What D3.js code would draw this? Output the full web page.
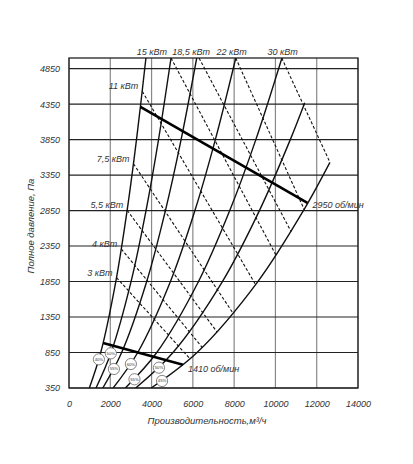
<!DOCTYPE html>
<html><head><meta charset="utf-8">
<script src="https://cdn.jsdelivr.net/npm/d3@7/dist/d3.min.js"></script>
<style>
body{margin:0;background:#fff;}
text{font-family:"Liberation Sans",Arial,sans-serif;font-style:italic;fill:#333;}
</style></head>
<body><svg id="c" width="413" height="464"></svg>
<script>
// ---- data ----
const xTicks = [0,2000,4000,6000,8000,10000,12000,14000];
const yTicks = [350,850,1350,1850,2350,2850,3350,3850,4350,4850];

// solid curves (Q m3/h, P Pa)
const curve1 = [[986,350],[1537,850],[2267,1850],[2814,2850],[3270,3850],[3727,5000]];
const curve2 = [[1308,350],[2038,850],[3006,1850],[3731,2850],[4337,3850],[4942,5000]];
const curve3 = [[1637,350],[2551,850],[3764,1850],[4671,2850],[5430,3850],[6187,5000]];
const curve4 = [[2138,350],[3331,850],[4914,1850],[6100,2850],[7089,3850],[8079,5000]];
const curve5 = [[2729,350],[4253,850],[6274,1850],[7787,2850],[9051,3850],[10314,5000]];
const curve6 = [[3232,350],[5037,850],[7431,1850],[9224,2850],[10720,3850],[11420,4370]];
const curve7 = [[3980,350],[6202,850],[9149,1850],[11356,2850],[12640,3530]];

// power lines (dashed)
const powerLabels = ["3 кВт","4 кВт","5,5 кВт","7,5 кВт","11 кВт","15 кВт","18,5 кВт","22 кВт","30 кВт"];
const powerStart = [[2303,1906],[2535,2309],[2818,2854],[3125,3509],[3551,4530],[4942,5000],[6300,5000],[8077,5000],[10305,5000]];
const powerEnd   = [[5867,759],[6459,920],[7180,1136],[7961,1397],[9046,1804],[10032,2219],[10760,2553],[11397,2864],[12640,3530]];

// speed lines (bold)
const speedLabels = ["2950 об/мин","1410 об/мин"];
const speed2950 = [[3460,4310],[11550,2960]];
const speed1410 = [[1654,985],[5521,676]];

// percentage marks on curves
const pctLabels = ["40%","50%","55%","60%","55%","50%","45%"];
const pctQ = [1447,2025,2175,2997,3172,4357,4507];
const pctP = [754,839,618,688,473,636,449];

// ---- drawing ----
const svg = d3.select("#c");
const L=69,R=358,T=58,B=388;
const x = d3.scaleLinear().domain([0,14000]).range([L,R]);
const y = d3.scaleLinear().domain([350,5000]).range([B,T]);

svg.append("defs").append("clipPath").attr("id","clip")
  .append("rect").attr("x",L).attr("y",T).attr("width",R-L).attr("height",B-T);

// grid
const g = svg.append("g");
g.selectAll(".vg").data(xTicks).join("line")
  .attr("x1",d=>x(d)).attr("x2",d=>x(d)).attr("y1",T).attr("y2",B)
  .attr("stroke","#888").attr("stroke-width",1.2);
g.selectAll(".hg").data(yTicks).join("line")
  .attr("x1",L).attr("x2",R).attr("y1",d=>y(d)).attr("y2",d=>y(d))
  .attr("stroke","#222").attr("stroke-width",1.1);
g.append("rect").attr("x",L).attr("y",T).attr("width",R-L).attr("height",B-T)
  .attr("fill","none").attr("stroke","#222").attr("stroke-width",1.3);

// axes labels
const xAxis = d3.axisBottom(x).tickValues(xTicks).tickSize(0).tickPadding(0).tickFormat(d3.format("d"));
const ax = svg.append("g").attr("transform",`translate(0,${B})`).call(xAxis);
ax.select(".domain").remove();
ax.selectAll("text").attr("dy",null).attr("y",19).style("font-size","9px").style("font-family","Liberation Sans").attr("fill","#333");
const yAxis = d3.axisLeft(y).tickValues(yTicks).tickSize(0).tickPadding(0).tickFormat(d3.format("d"));
const ay = svg.append("g").attr("transform",`translate(${L-9},0)`).call(yAxis);
ay.select(".domain").remove();
ay.selectAll("text").style("font-size","9px").style("font-family","Liberation Sans").attr("fill","#333");

svg.append("text").attr("x",207).attr("y",424).attr("text-anchor","middle")
  .style("font-size","9.5px").text("Производительность,м³/ч");
svg.append("text").attr("transform","translate(34,226) rotate(-90)").attr("text-anchor","middle")
  .style("font-size","9.5px").text("Полное давление, Па");

const plot = svg.append("g").attr("clip-path","url(#clip)");
const line = d3.line().x(d=>x(d[0])).y(d=>y(d[1]));
const smooth = d3.line().x(d=>x(d[0])).y(d=>y(d[1])).curve(d3.curveCatmullRom.alpha(0.5));

// dashed power lines
powerStart.forEach((s,i)=>{
  plot.append("path").attr("d",line([s,powerEnd[i]]))
    .attr("fill","none").attr("stroke","#111").attr("stroke-width",1.1)
    .attr("stroke-dasharray","3,2");
});

// solid curves
[curve1,curve2,curve3,curve4,curve5,curve6,curve7].forEach(c=>{
  plot.append("path").attr("d",smooth(c)).attr("fill","none")
    .attr("stroke","#111").attr("stroke-width",1.4);
});

// bold speed lines
[speed2950,speed1410].forEach(c=>{
  plot.append("path").attr("d",line(c)).attr("fill","none")
    .attr("stroke","#000").attr("stroke-width",2.6);
});

// power labels
powerLabels.forEach((t,i)=>{
  const s = powerStart[i];
  let tx, ty, anchor;
  if (s[1] < 5000) { tx = x(s[0])-4; ty = y(s[1])-2; anchor="end"; }
  else {
    const dx = [ -4, -8, -4, 1 ][i-5];
    tx = x(s[0])+dx; ty = T-3; anchor = (i===5)?"end":"middle";
  }
  svg.append("text").attr("x",tx).attr("y",ty).attr("text-anchor",anchor)
    .style("font-size","9px").text(t);
});

// speed labels
svg.append("text").attr("x",x(speed2950[1][0])+5).attr("y",y(speed2950[1][1])+5)
  .style("font-size","9px").text(speedLabels[0]);
svg.append("text").attr("x",x(speed1410[1][0])+5).attr("y",y(speed1410[1][1])+7)
  .style("font-size","9px").text(speedLabels[1]);

// percentage circles
const pg = svg.append("g");
pctLabels.forEach((t,i)=>{
  const cx = x(pctQ[i]), cy = y(pctP[i]);
  pg.append("circle").attr("cx",cx).attr("cy",cy).attr("r",5.6)
    .attr("fill","#fff").attr("stroke","#666").attr("stroke-width",0.8);
  pg.append("text").attr("x",cx).attr("y",cy+1.5).attr("text-anchor","middle")
    .style("font-size","4.2px").style("font-style","normal").attr("fill","#444").text(t);
});
</script></body></html>
